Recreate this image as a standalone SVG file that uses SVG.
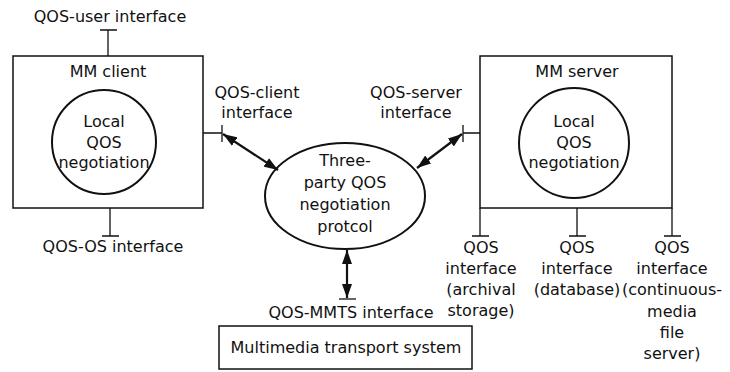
<svg xmlns="http://www.w3.org/2000/svg" width="730" height="372" viewBox="0 0 730 372">
<style>
text{font-family:"DejaVu Sans","Liberation Sans",sans-serif;font-size:16px;fill:#111;text-anchor:middle}
.box{fill:none;stroke:#111;stroke-width:1.5}
.circ{fill:none;stroke:#111;stroke-width:2}
.ln{fill:none;stroke:#111;stroke-width:1.3}
.arr{fill:none;stroke:#111;stroke-width:2.2;marker-start:url(#ah);marker-end:url(#ah)}
</style>
<defs>
<marker id="ah" viewBox="0 0 14 10" refX="14" refY="5" markerWidth="14" markerHeight="10" markerUnits="userSpaceOnUse" orient="auto-start-reverse">
<path d="M0,0 L14,5 L0,10 Z" fill="#111"/>
</marker>
</defs>
<g id="mm-client">
<rect class="box" x="13" y="56" width="190" height="152"/>
<text x="108" y="77">MM client</text>
<circle class="circ" cx="104" cy="142" r="52"/>
<text x="104" y="127">Local</text>
<text x="104" y="148">QOS</text>
<text x="104" y="168">negotiation</text>
</g>
<g id="mm-server">
<rect class="box" x="480" y="56" width="192" height="152"/>
<text x="577" y="77">MM server</text>
<circle class="circ" cx="574" cy="143" r="55"/>
<text x="574" y="127">Local</text>
<text x="574" y="148">QOS</text>
<text x="574" y="168">negotiation</text>
</g>
<g id="protocol">
<ellipse class="circ" cx="345" cy="196" rx="80" ry="53"/>
<text x="345" y="166">Three-</text>
<text x="345" y="188">party QOS</text>
<text x="345" y="210">negotiation</text>
<text x="345" y="232">protcol</text>
</g>
<g id="mmts">
<rect class="box" x="219" y="326" width="253" height="43"/>
<text x="346" y="353">Multimedia transport system</text>
</g>
<g id="labels">
<text x="110" y="22">QOS-user interface</text>
<text x="113" y="252">QOS-OS interface</text>
<text x="257" y="98">QOS-client</text>
<text x="257" y="118">interface</text>
<text x="416" y="98">QOS-server</text>
<text x="416" y="118">interface</text>
<text x="351" y="318">QOS-MMTS interface</text>
<text x="481" y="253">QOS</text>
<text x="481" y="274">interface</text>
<text x="481" y="295">(archival</text>
<text x="481" y="316">storage)</text>
<text x="577" y="253">QOS</text>
<text x="577" y="274">interface</text>
<text x="577" y="295">(database)</text>
<text x="672" y="253">QOS</text>
<text x="672" y="274">interface</text>
<text x="672" y="295">(continuous-</text>
<text x="672" y="317">media</text>
<text x="672" y="338">file</text>
<text x="672" y="359">server)</text>
</g>
<g id="connectors">
<path class="ln" d="M108,56 V30 M100,30 H117"/>
<path class="ln" d="M110,208 V236 M102,236 H119"/>
<path class="ln" d="M203,133 H222 M222,125 V142"/>
<path class="ln" d="M480,133 H463 M463,125 V142"/>
<path class="ln" d="M480,208 V236 M472,236 H489"/>
<path class="ln" d="M577,208 V236 M569,236 H586"/>
<path class="ln" d="M672,208 V236 M664,236 H681"/>
<path class="ln" d="M339,299 H356"/>
<line class="arr" x1="223" y1="134" x2="278" y2="170"/>
<line class="arr" x1="462" y1="134" x2="417" y2="168"/>
<line class="arr" x1="347" y1="250" x2="347" y2="298"/>
</g>
</svg>
